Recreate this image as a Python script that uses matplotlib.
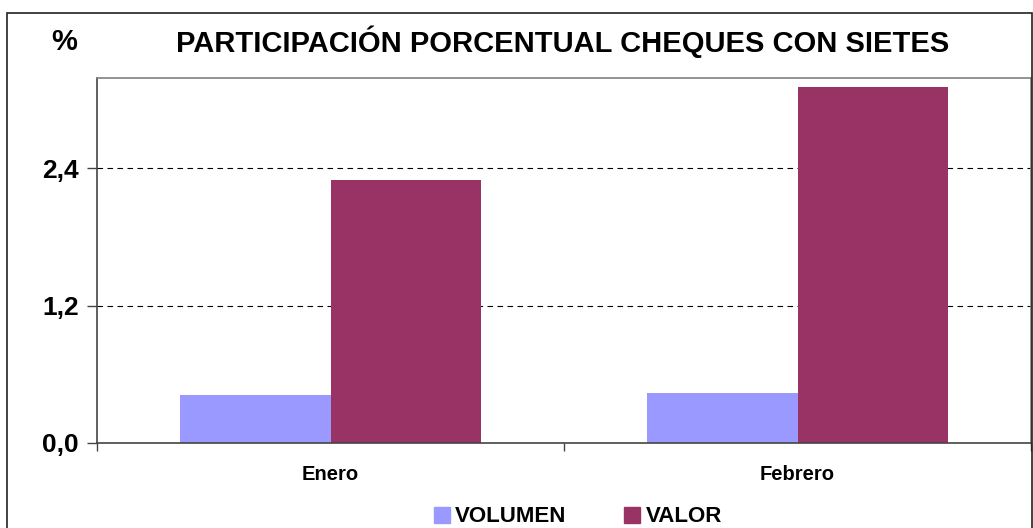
import numpy as np
import matplotlib.pyplot as plt
from matplotlib.patches import Rectangle, Patch

plt.rcParams['font.family'] = ['Liberation Sans', 'DejaVu Sans']

# data
meses = ['Enero', 'Febrero']
volumen = [0.42, 0.436]
valor = [2.30, 3.115]
yticks = [0.0, 1.2, 2.4]
ytick_labels = ['0,0', '1,2', '2,4']

W, H = 1033, 528
fig = plt.figure(figsize=(W / 100, H / 100), dpi=100)

# outer frame of the chart object
fig.patches.append(Rectangle((7 / W, -0.05), (1032 - 7) / W, 1.05 - 13 / H,
                             transform=fig.transFigure, fill=False,
                             edgecolor='#222222', linewidth=1.2))

ax = fig.add_axes([97 / W, (H - 443) / H, (1031 - 97) / W, (443 - 78) / H])

x = np.arange(len(meses))
w = 0.323
ax.bar(x - w / 2, volumen, w, color='#9999FF', label='VOLUMEN', zorder=2)
ax.bar(x + w / 2, valor, w, color='#993366', label='VALOR', zorder=2)

ax.set_xlim(-0.5, 1.5)
ax.set_ylim(0, 3.19)

ax.set_yticks(yticks)
ax.set_yticklabels(ytick_labels, fontsize=19, fontweight='bold')
ax.tick_params(axis='y', direction='out', length=7, width=1, color='#444444', pad=6)

# category labels between boundary ticks
ax.set_xticks([-0.5, 0.5, 1.5])
ax.set_xticklabels([])
ax.tick_params(axis='x', direction='out', length=6, width=1, color='#444444')
for xi, m in zip(x, meses):
    ax.text(xi, -0.06, m, transform=ax.get_xaxis_transform(), ha='center', va='top',
            fontsize=14.5, fontweight='bold')

for yv in yticks[1:]:
    ax.axhline(yv, color='black', linestyle=(0, (5, 4)), linewidth=0.8, zorder=1)

for s in ['top', 'right']:
    ax.spines[s].set_color('#808080')
    ax.spines[s].set_linewidth(1.2)
for s in ['left', 'bottom']:
    ax.spines[s].set_color('#444444')
    ax.spines[s].set_linewidth(1.2)

fig.text(563 / W, 1 - 42 / H, 'PARTICIPACIÓN PORCENTUAL CHEQUES CON SIETES',
         ha='center', va='center', fontsize=21, fontweight='bold')
fig.text(64 / W, 1 - 42 / H, '%', ha='center', va='center', fontsize=21, fontweight='bold')

handles = [Patch(color='#9999FF', label='VOLUMEN'), Patch(color='#993366', label='VALOR')]
fig.legend(handles=handles, loc='center', bbox_to_anchor=(578 / W, 1 - 517 / H), ncol=2,
           frameon=False, prop={'size': 16, 'weight': 'bold'},
           handlelength=0.7, handleheight=0.7, handletextpad=0.25, columnspacing=2.6)

fig.savefig('out.png', dpi=100)
